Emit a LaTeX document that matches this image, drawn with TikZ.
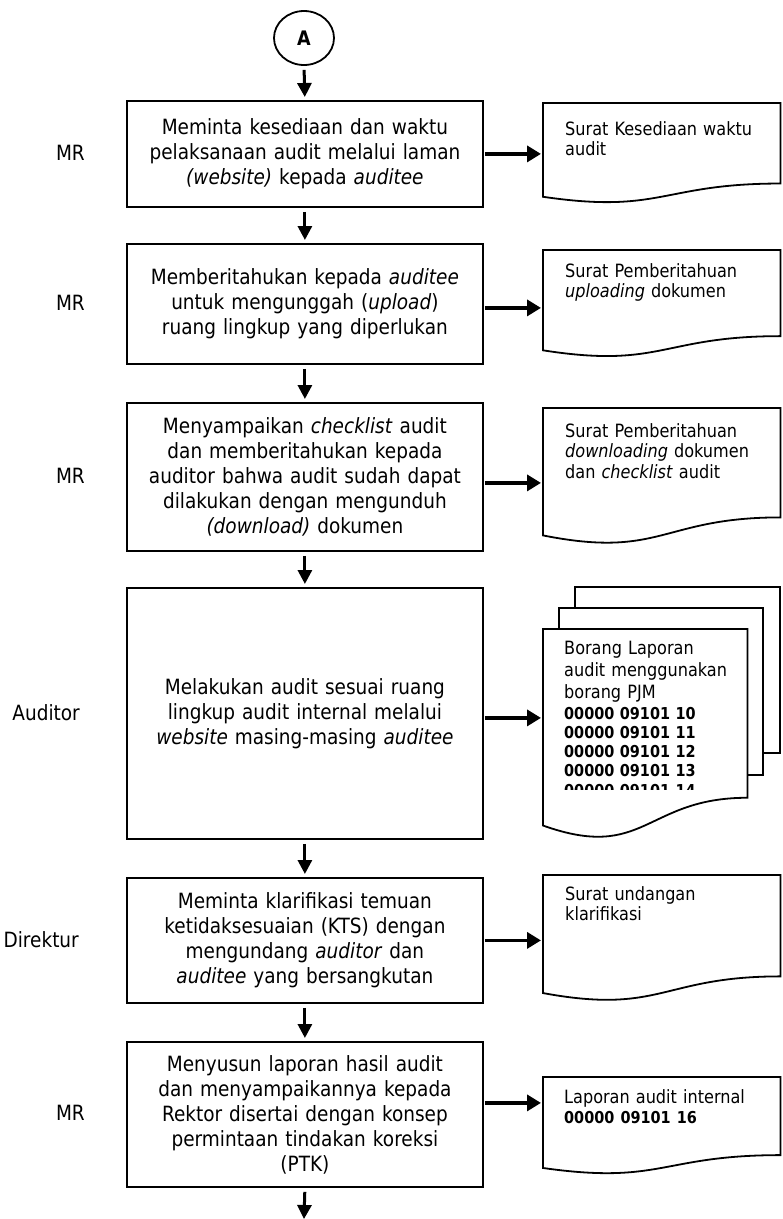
\documentclass[tikz,border=0pt]{standalone}
\usepackage{fontspec}
\setmainfont{DejaVu Sans}[FakeStretch=0.88]
\usetikzlibrary{arrows.meta,calc,shapes.geometric}
\newcommand\boxfont{\fontsize{21}{25}\selectfont}
\newcommand\docfont{\fontsize{18.3}{20.5}\selectfont}
\newcommand\numfont{\fontsize{16.4}{19.3}\selectfont\bfseries}
\newcommand\docwave[1]{%
  \draw[docline] (#1.north west) -- (#1.north east) -- ($(#1.north east)!0.802!(#1.south east)$)
    .. controls ($(#1.north)!0.802!(#1.south)$) and ($(#1.north)!1.1075!(#1.south)$) ..
    ($(#1.north west)!0.934!(#1.south west)$) -- cycle;}
\tikzset{
  procbox/.style={draw, line width=1.8pt, anchor=north west, minimum width=356pt,
    text width=346pt, align=center, inner sep=4pt, font=\boxfont},
  docframe/.style={anchor=north west, inner sep=0pt, draw=none, minimum width=237pt},
  doctext/.style={anchor=base west, inner sep=0pt, text width=205pt, align=left, font=\docfont},
  docline/.style={line width=1.8pt, line join=miter},
  lane/.style={anchor=east, font=\boxfont, inner sep=0pt},
  varrow/.style={line width=3pt, -{Triangle[length=14pt,width=14pt]}},
  harrow/.style={line width=3.8pt, -{Triangle[length=14pt,width=16pt]}},
}
\begin{document}
\begin{tikzpicture}[x=1pt,y=-1pt]
\useasboundingbox (0,0) rectangle (783,1219);

% start connector
\node[draw, ellipse, line width=1.8pt, minimum width=60pt, minimum height=54pt, inner sep=0pt,
  font=\fontsize{20}{22}\selectfont\bfseries] (c) at (304,38) {A};

% process boxes
\node[procbox, minimum height=106pt] (b1) at (126,100)
  {Meminta kesediaan dan waktu\\ pelaksanaan audit melalui laman\\ \textit{(website)} kepada \textit{auditee}};
\node[procbox, minimum height=120pt] (b2) at (126,243)
  {Memberitahukan kepada \textit{auditee}\\ untuk mengunggah (\textit{upload})\\ ruang lingkup yang diperlukan};
\node[procbox, minimum height=148pt] (b3) at (126,402)
  {Menyampaikan \textit{checklist} audit\\ dan memberitahukan kepada\\ auditor bahwa audit sudah dapat\\ dilakukan dengan mengunduh\\ \textit{(download)} dokumen};
\node[procbox, minimum height=251pt] (b4) at (126,587)
  {Melakukan audit sesuai ruang\\ lingkup audit internal melalui\\ \textit{website} masing-masing \textit{auditee}};
\node[procbox, minimum height=125pt] (b5) at (126,877)
  {Meminta klarifikasi temuan\\ ketidaksesuaian (KTS) dengan\\ mengundang \textit{auditor} dan\\ \textit{auditee} yang bersangkutan};
\node[procbox, minimum height=145pt] (b6) at (126,1041)
  {Menyusun laporan hasil audit\\ dan menyampaikannya kepada\\ Rektor disertai dengan konsep\\ permintaan tindakan koreksi\\ (PTK)};

% lane labels
\node[lane] (l1) at (85,153) {MR};
\node[lane] (l2) at (85,303) {MR};
\node[lane] (l3) at (85,476) {MR};
\node[lane] (l4) at (80,713) {Auditor};
\node[lane] (l5) at (79,940) {Direktur};
\node[lane] (l6) at (85,1113) {MR};

% documents
\node[docframe, minimum height=100pt] (d1) at (543,103) {};
\docwave{d1}
\node[doctext] (d1t) at (565,135) {Surat Kesediaan waktu\\audit};

\node[docframe, minimum height=107pt] (d2) at (543,250) {};
\docwave{d2}
\node[doctext] (d2t) at (565,277) {Surat Pemberitahuan\\ \textit{uploading} dokumen};

\node[docframe, minimum height=136pt] (d3) at (543,408) {};
\docwave{d3}
\node[doctext] (d3t) at (565,437) {Surat Pemberitahuan\\ \textit{downloading} dokumen\\ dan \textit{checklist} audit};

% stacked documents
\draw[docline] (575,608) -- (575,587) -- (780,587) -- (780,753) -- (763,753);
\draw[docline] (559,629) -- (559,608) -- (763,608) -- (763,775) -- (747,775);
\node[docframe, minimum width=204pt, minimum height=210pt] (d4) at (543,629) {};
\docwave{d4}
\node[doctext, font=\fontsize{18.3}{22}\selectfont] (d4t) at (564,654) {Borang Laporan\\audit menggunakan\\borang PJM};
\begin{scope}
  \clip (543,629) rectangle (747,789.5);
  \node[doctext, font=\numfont] (d4n) at (564,719) {00000 09101 10\\00000 09101 11\\00000 09101 12\\00000 09101 13\\00000 09101 14};
\end{scope}

\node[docframe, minimum height=126pt] (d5) at (543,875) {};
\docwave{d5}
\node[doctext] (d5t) at (565,900) {Surat undangan\\klarifikasi};

\node[docframe, minimum height=97pt] (d6) at (543,1077) {};
\docwave{d6}
\node[doctext] (d6t) at (564,1103) {Laporan audit internal\\ \textbf{\numfont 00000 09101 16}};

% vertical flow
\coordinate (fin) at (304,1219);
\draw[varrow, shorten <=4pt, shorten >=3pt] (c.south) -- (b1.north);
\draw[varrow, shorten <=4pt, shorten >=3pt] (b1.south) -- (b2.north);
\draw[varrow, shorten <=4pt, shorten >=3pt] (b2.south) -- (b3.north);
\draw[varrow, shorten <=4pt, shorten >=3pt] (b3.south) -- (b4.north);
\draw[varrow, shorten <=4pt, shorten >=3pt] (b4.south) -- (b5.north);
\draw[varrow, shorten <=4pt, shorten >=3pt] (b5.south) -- (b6.north);
\draw[varrow, shorten <=4pt] (b6.south) -- (fin);

% outputs
\draw[harrow, shorten <=1pt, shorten >=2pt] (b1.east) -- (b1.east -| d1.west);
\draw[harrow, shorten <=1pt, shorten >=2pt] ([yshift=-4pt]b2.east) -- ([yshift=-4pt]b2.east -| d2.west);
\draw[harrow, shorten <=1pt, shorten >=2pt] ([yshift=-6pt]b3.east) -- ([yshift=-6pt]b3.east -| d3.west);
\draw[harrow, shorten <=1pt, shorten >=2pt] ([yshift=-4.5pt]b4.east) -- ([yshift=-4.5pt]b4.east -| d4.west);
\draw[harrow, shorten <=1pt, shorten >=2pt] (b5.east) -- (b5.east -| d5.west);
\draw[harrow, shorten <=1pt, shorten >=2pt] ([yshift=11.5pt]b6.east) -- ([yshift=11.5pt]b6.east -| d6.west);
\end{tikzpicture}
\end{document}
